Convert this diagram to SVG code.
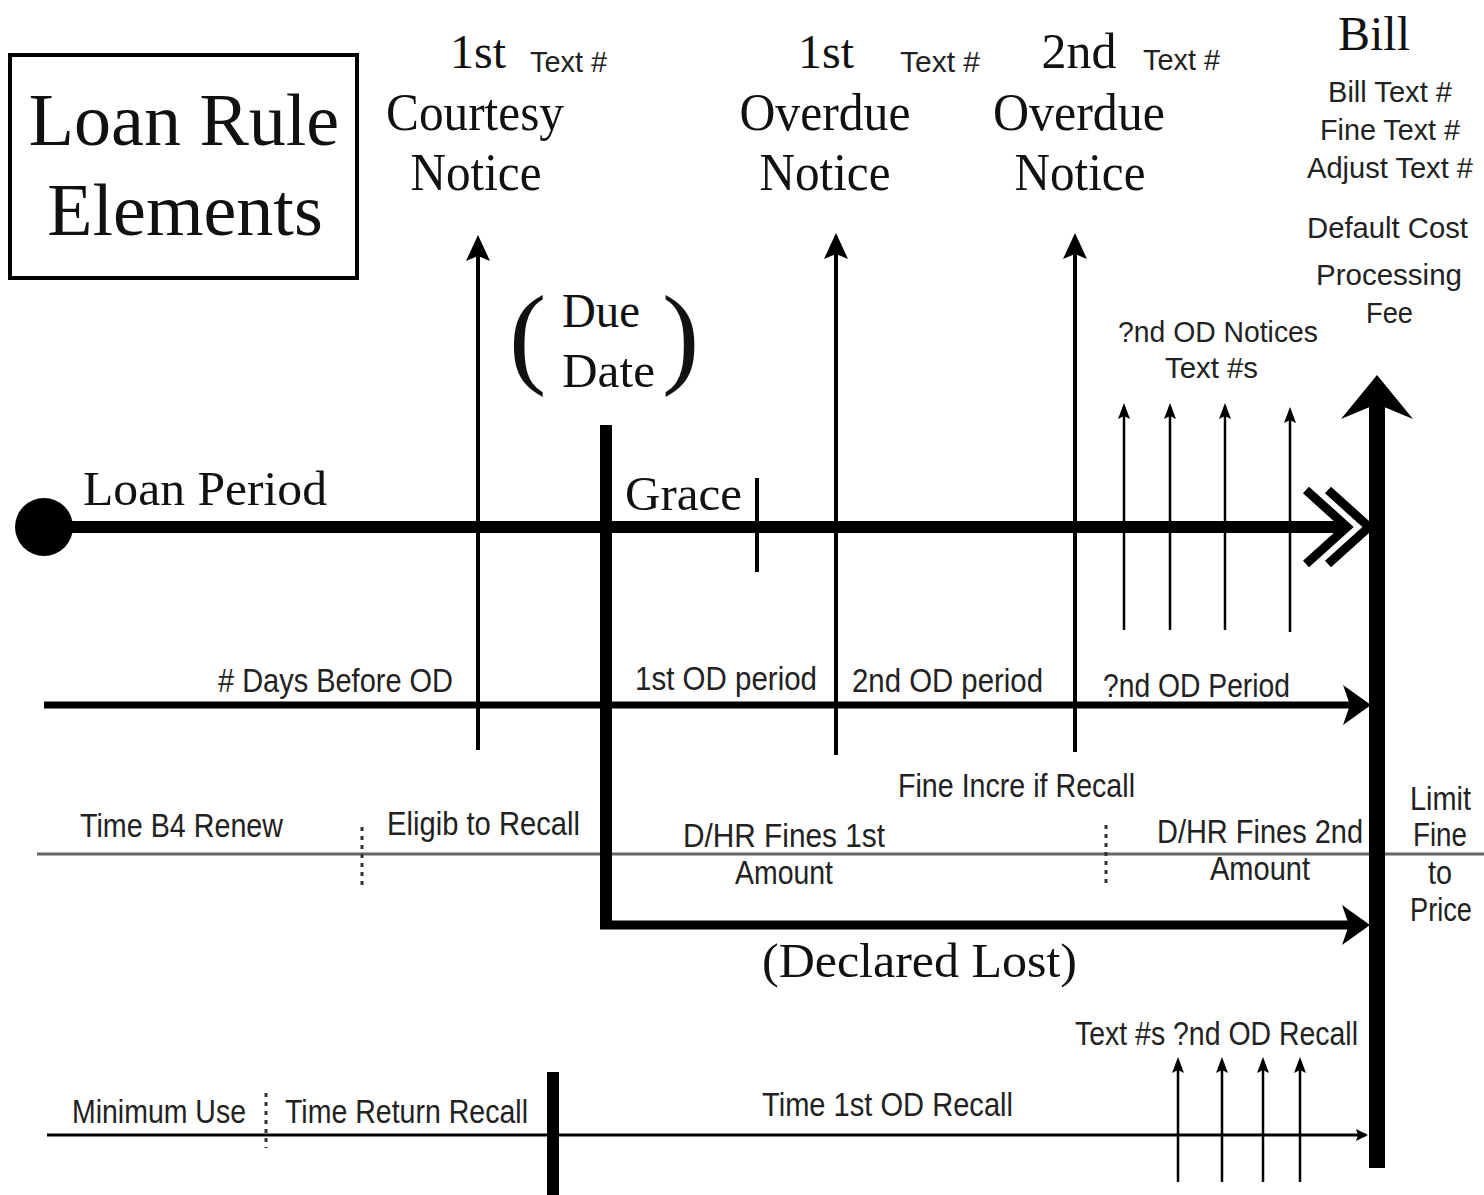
<svg xmlns="http://www.w3.org/2000/svg" width="1484" height="1195" viewBox="0 0 1484 1195">
<style>
.serif{font-family:"Liberation Serif","Times New Roman",serif;fill:#111}
.sans{font-family:"Liberation Sans",Arial,sans-serif;fill:#222;font-size:33px}
.sm{font-size:30px}
.mid{text-anchor:middle}
.ln{stroke:#000;fill:none}
.dot{stroke:#333;stroke-width:3;stroke-dasharray:4 5;fill:none}
</style>
<defs>
<marker id="mA" markerUnits="userSpaceOnUse" markerWidth="26" markerHeight="24" refX="20" refY="12" orient="auto"><path d="M0,0 L26,12 L0,24 L5,12 z" fill="#000"/></marker>
<marker id="mB" markerUnits="userSpaceOnUse" markerWidth="16" markerHeight="12" refX="12" refY="6" orient="auto"><path d="M0,0 L16,6 L0,12 L3,6 z" fill="#000"/></marker>
<marker id="mC" markerUnits="userSpaceOnUse" markerWidth="28" markerHeight="40" refX="22" refY="20" orient="auto"><path d="M0,0 L28,20 L0,40 L7,20 z" fill="#000"/></marker>
<marker id="mE" markerUnits="userSpaceOnUse" markerWidth="12" markerHeight="12" refX="10" refY="6" orient="auto"><path d="M0,0 L12,6 L0,12 L2,6 z" fill="#000"/></marker>
</defs>
<rect width="1484" height="1195" fill="#fff"/>

<g id="connectors">
  <line class="ln" x1="44" y1="527" x2="1346" y2="527" stroke-width="12"/>
  <polyline class="ln" points="1306,490 1347,527 1306,564" stroke-width="9"/>
  <polyline class="ln" points="1328,490 1369,527 1328,564" stroke-width="9"/>
  <line class="ln" x1="44" y1="705" x2="1365" y2="705" stroke-width="7" marker-end="url(#mC)"/>
  <line x1="37" y1="854" x2="1484" y2="854" stroke="#666" stroke-width="3"/>
  <line class="ln" x1="606" y1="425" x2="606" y2="929" stroke-width="12"/>
  <line class="ln" x1="600" y1="925" x2="1364" y2="925" stroke-width="9" marker-end="url(#mC)"/>
  <line class="ln" x1="47" y1="1135" x2="1366" y2="1135" stroke="#222" stroke-width="3" marker-end="url(#mE)"/>
  <line class="ln" x1="553" y1="1072" x2="553" y2="1195" stroke-width="12"/>
  <line class="ln" x1="478" y1="750" x2="478" y2="241" stroke-width="4" marker-end="url(#mA)"/>
  <line class="ln" x1="836" y1="755" x2="836" y2="239" stroke-width="4" marker-end="url(#mA)"/>
  <line class="ln" x1="1075" y1="752" x2="1075" y2="239" stroke-width="4" marker-end="url(#mA)"/>
  <line class="ln" x1="757" y1="478" x2="757" y2="572" stroke-width="4"/>
  <line class="ln" x1="1124" y1="630" x2="1124" y2="407" stroke-width="2.5" marker-end="url(#mB)"/>
  <line class="ln" x1="1170" y1="630" x2="1170" y2="407" stroke-width="2.5" marker-end="url(#mB)"/>
  <line class="ln" x1="1225" y1="630" x2="1225" y2="407" stroke-width="2.5" marker-end="url(#mB)"/>
  <line class="ln" x1="1290" y1="632" x2="1290" y2="411" stroke-width="2.5" marker-end="url(#mB)"/>
  <line class="ln" x1="1178" y1="1182" x2="1178" y2="1061" stroke-width="2.5" marker-end="url(#mB)"/>
  <line class="ln" x1="1222" y1="1182" x2="1222" y2="1061" stroke-width="2.5" marker-end="url(#mB)"/>
  <line class="ln" x1="1263" y1="1182" x2="1263" y2="1061" stroke-width="2.5" marker-end="url(#mB)"/>
  <line class="ln" x1="1300" y1="1182" x2="1300" y2="1061" stroke-width="2.5" marker-end="url(#mB)"/>
  <line class="ln" x1="1377" y1="1168" x2="1377" y2="398" stroke-width="16"/>
  <polygon points="1377,375 1413,419 1377,404 1341,419" fill="#000"/>
  <line class="dot" x1="362" y1="827" x2="362" y2="885"/>
  <line class="dot" x1="1106" y1="825" x2="1106" y2="885"/>
  <line class="dot" x1="266" y1="1093" x2="266" y2="1148"/>
</g>

<g id="start"><circle cx="44" cy="527" r="29" fill="#000"/></g>

<g id="title">
  <rect x="10" y="55" width="347" height="223" fill="none" stroke="#000" stroke-width="4"/>
  <text class="serif mid" x="184" y="145" font-size="74">Loan Rule</text>
  <text class="serif mid" x="185" y="235" font-size="74">Elements</text>
</g>

<g id="courtesy-notice">
  <text class="serif mid" x="478" y="68" font-size="48">1st</text>
  <text class="sans sm" x="530" y="72" textLength="77" lengthAdjust="spacingAndGlyphs">Text #</text>
  <text class="serif mid" x="475" y="130" font-size="52" textLength="178" lengthAdjust="spacingAndGlyphs">Courtesy</text>
  <text class="serif mid" x="476" y="190" font-size="52" textLength="131" lengthAdjust="spacingAndGlyphs">Notice</text>
</g>

<g id="first-overdue">
  <text class="serif mid" x="826" y="68" font-size="48">1st</text>
  <text class="sans sm" x="900" y="72" textLength="80" lengthAdjust="spacingAndGlyphs">Text #</text>
  <text class="serif mid" x="825" y="130" font-size="52" textLength="171" lengthAdjust="spacingAndGlyphs">Overdue</text>
  <text class="serif mid" x="825" y="190" font-size="52" textLength="131" lengthAdjust="spacingAndGlyphs">Notice</text>
</g>

<g id="second-overdue">
  <text class="serif mid" x="1079" y="68" font-size="50">2nd</text>
  <text class="sans sm" x="1143" y="70" textLength="77" lengthAdjust="spacingAndGlyphs">Text #</text>
  <text class="serif mid" x="1079" y="130" font-size="52" textLength="172" lengthAdjust="spacingAndGlyphs">Overdue</text>
  <text class="serif mid" x="1080" y="190" font-size="52" textLength="131" lengthAdjust="spacingAndGlyphs">Notice</text>
</g>

<g id="due-date">
  <text class="serif" x="509" y="373" font-size="112">(</text>
  <text class="serif" x="562" y="327" font-size="48" textLength="78" lengthAdjust="spacingAndGlyphs">Due</text>
  <text class="serif" x="562" y="387" font-size="48" textLength="93" lengthAdjust="spacingAndGlyphs">Date</text>
  <text class="serif" x="662" y="373" font-size="112">)</text>
</g>

<g id="loan-period"><text class="serif" x="83" y="505" font-size="49" textLength="244" lengthAdjust="spacingAndGlyphs">Loan Period</text></g>
<g id="grace"><text class="serif" x="625" y="510" font-size="49" textLength="117" lengthAdjust="spacingAndGlyphs">Grace</text></g>
<g id="declared-lost"><text class="serif" x="762" y="977" font-size="49" textLength="315" lengthAdjust="spacingAndGlyphs">(Declared Lost)</text></g>

<g id="bill">
  <text class="serif mid" x="1374" y="50" font-size="48">Bill</text>
  <text class="sans sm" x="1328" y="102" textLength="124" lengthAdjust="spacingAndGlyphs">Bill Text #</text>
  <text class="sans sm" x="1320" y="140" textLength="140" lengthAdjust="spacingAndGlyphs">Fine Text #</text>
  <text class="sans sm" x="1307" y="178" textLength="166" lengthAdjust="spacingAndGlyphs">Adjust Text #</text>
  <text class="sans sm" x="1307" y="238" textLength="161" lengthAdjust="spacingAndGlyphs">Default Cost</text>
  <text class="sans sm" x="1316" y="285" textLength="146" lengthAdjust="spacingAndGlyphs">Processing</text>
  <text class="sans sm" x="1366" y="323" textLength="47" lengthAdjust="spacingAndGlyphs">Fee</text>
</g>

<g id="od-notices">
  <text class="sans sm" x="1118" y="342" textLength="200" lengthAdjust="spacingAndGlyphs">?nd OD Notices</text>
  <text class="sans sm" x="1165" y="378" textLength="93" lengthAdjust="spacingAndGlyphs">Text #s</text>
</g>

<g id="od-periods">
  <text class="sans" x="218" y="692" textLength="235" lengthAdjust="spacingAndGlyphs"># Days Before OD</text>
  <text class="sans" x="635" y="690" textLength="182" lengthAdjust="spacingAndGlyphs">1st OD period</text>
  <text class="sans" x="852" y="692" textLength="191" lengthAdjust="spacingAndGlyphs">2nd OD period</text>
  <text class="sans" x="1103" y="697" textLength="187" lengthAdjust="spacingAndGlyphs">?nd OD Period</text>
</g>

<g id="fines">
  <text class="sans" x="898" y="797" textLength="237" lengthAdjust="spacingAndGlyphs">Fine Incre if Recall</text>
  <text class="sans" x="80" y="837" textLength="203" lengthAdjust="spacingAndGlyphs">Time B4 Renew</text>
  <text class="sans" x="387" y="835" textLength="193" lengthAdjust="spacingAndGlyphs">Eligib to Recall</text>
  <text class="sans" x="683" y="847" textLength="202" lengthAdjust="spacingAndGlyphs">D/HR Fines 1st</text>
  <text class="sans" x="735" y="884" textLength="98" lengthAdjust="spacingAndGlyphs">Amount</text>
  <text class="sans" x="1157" y="843" textLength="206" lengthAdjust="spacingAndGlyphs">D/HR Fines 2nd</text>
  <text class="sans" x="1210" y="880" textLength="100" lengthAdjust="spacingAndGlyphs">Amount</text>
</g>

<g id="limit">
  <text class="sans" x="1410" y="810" textLength="61" lengthAdjust="spacingAndGlyphs">Limit</text>
  <text class="sans" x="1413" y="846" textLength="54" lengthAdjust="spacingAndGlyphs">Fine</text>
  <text class="sans" x="1428" y="884" textLength="24" lengthAdjust="spacingAndGlyphs">to</text>
  <text class="sans" x="1410" y="921" textLength="62" lengthAdjust="spacingAndGlyphs">Price</text>
</g>

<g id="recall">
  <text class="sans" x="1075" y="1045" textLength="283" lengthAdjust="spacingAndGlyphs">Text #s ?nd OD Recall</text>
  <text class="sans" x="72" y="1123" textLength="174" lengthAdjust="spacingAndGlyphs">Minimum Use</text>
  <text class="sans" x="285" y="1123" textLength="243" lengthAdjust="spacingAndGlyphs">Time Return Recall</text>
  <text class="sans" x="762" y="1116" textLength="251" lengthAdjust="spacingAndGlyphs">Time 1st OD Recall</text>
</g>
</svg>
